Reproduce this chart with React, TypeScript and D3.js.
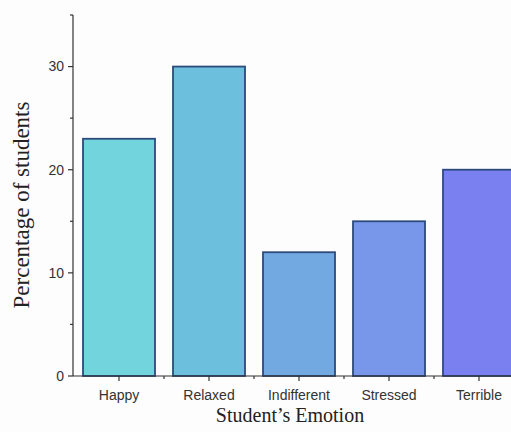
import React from 'react';
import * as d3 from 'd3';

const categories = ['Happy', 'Relaxed', 'Indifferent', 'Stressed', 'Terrible'];
const values = [23, 30, 12, 15, 20];
const fills = ['#72d4dc', '#6cc0dd', '#72a9e1', '#7897ea', '#7b80f1'];
const majorTicks = [0, 10, 20, 30];
const minorTicks = [5, 15, 25, 35];

const W = 511;
const H = 432;

const App: React.FC = () => {
  const x = d3.scaleBand<string>().domain(categories).range([74, 524]).paddingInner(0.2).paddingOuter(0.1);
  const y = d3.scaleLinear().domain([0, 35]).range([376, 15]);
  const y0 = y(0);
  const step = x.step();
  const bounds = categories.slice(1).map(c => (x(c) as number) - step * 0.1);

  return (
    <svg width={W} height={H} style={{ position: 'absolute', left: 0, top: 0, background: '#fdfdfd' }}>
      {categories.map((c, i) => (
        <rect
          key={c}
          x={x(c)}
          y={y(values[i])}
          width={x.bandwidth()}
          height={y0 - y(values[i])}
          fill={fills[i]}
          stroke="#2c4a7c"
          strokeWidth={1.8}
        />
      ))}

      {/* y axis */}
      <line x1={73} x2={73} y1={y(35)} y2={y0} stroke="#333" strokeWidth={1.2} />
      {majorTicks.map(t => (
        <g key={t}>
          <line x1={68} x2={73} y1={y(t)} y2={y(t)} stroke="#333" strokeWidth={1.2} />
          <text x={64} y={y(t)} dy="0.35em" textAnchor="end" fontFamily="Liberation Sans, Arial, sans-serif" fontSize={14} fill="#333">{t}</text>
        </g>
      ))}
      {minorTicks.map(t => (
        <line key={t} x1={70} x2={73} y1={y(t)} y2={y(t)} stroke="#333" strokeWidth={1.2} />
      ))}

      {/* x axis */}
      <line x1={73} x2={W} y1={y0} y2={y0} stroke="#333" strokeWidth={1.2} />
      {categories.map(c => {
        const cx = (x(c) as number) + x.bandwidth() / 2;
        return (
          <g key={c}>
            <line x1={cx} x2={cx} y1={y0} y2={y0 + 5} stroke="#333" strokeWidth={1.2} />
            <text x={cx} y={400} textAnchor="middle" fontFamily="Liberation Sans, Arial, sans-serif" fontSize={14} fill="#333">{c}</text>
          </g>
        );
      })}
      {bounds.map((b, i) => (
        <line key={i} x1={b} x2={b} y1={y0} y2={y0 + 3} stroke="#333" strokeWidth={1.2} />
      ))}

      <text
        transform={`translate(29,205) rotate(-90)`}
        textAnchor="middle"
        fontFamily="Liberation Serif, Times New Roman, serif"
        fontSize={23}
        fill="#222"
      >
        Percentage of students
      </text>
      <text x={290} y={422} textAnchor="middle" fontFamily="Liberation Serif, Times New Roman, serif" fontSize={20} fill="#222">
        Student’s Emotion
      </text>
    </svg>
  );
};

export default App;
